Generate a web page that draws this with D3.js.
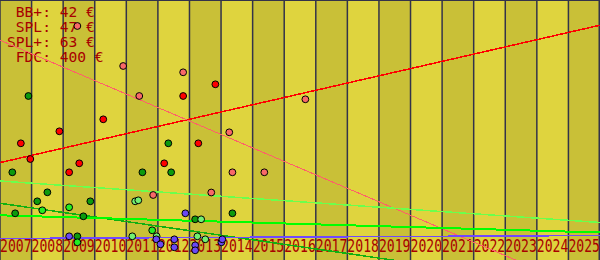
<!DOCTYPE html>
<html>
<head>
<meta charset="utf-8">
<script src="https://cdn.jsdelivr.net/npm/d3@7"></script>
<style>
  body { margin: 0; background: #fff; }
  svg { display: block; }
</style>
</head>
<body>
<svg id="chart"></svg>
<script>
// Years shown as bands along the x axis
const years = d3.range(2007, 2026);

// Legend lines (grade: price)
const legendLabels = ['BB+', 'SPL', 'SPL+', 'FDC'];
const legendPrices = [42, 47, 63, 400];

// Point series: [year, value]
const redPoints = [[2007.66, 58.35], [2007.96, 50.5], [2008.88, 64.35], [2009.19, 43.85], [2009.51, 48.35],
  [2010.27, 70.35], [2012.20, 48.35], [2012.80, 82], [2013.28, 58.35], [2013.82, 87.85]];
const salmonPoints = [[2009.45, 117], [2010.90, 97], [2011.41, 82], [2011.85, 32.5], [2012.80, 93.85],
  [2013.69, 33.75], [2014.26, 63.85], [2014.36, 43.85], [2015.37, 43.85], [2016.67, 80.35]];
const darkGreenPoints = [[2007.39, 43.85], [2007.48, 23.35], [2007.90, 82], [2008.18, 29.35], [2008.50, 33.85],
  [2009.45, 11.85], [2009.64, 21.85], [2009.86, 29.35], [2011.51, 43.85], [2012.33, 58.35],
  [2012.42, 43.85], [2013.18, 20.35], [2014.36, 23.35]];
const greenPoints = [[2008.34, 24.85], [2009.19, 26.35], [2009.45, 8.85], [2011.82, 14.85]];
const paleGreenPoints = [[2011.19, 11.85], [2011.28, 29.35], [2011.38, 29.85], [2011.96, 11.85],
  [2013.25, 11.85], [2013.37, 20.35], [2013.50, 10.35]];
const bluePoints = [[2009.19, 11.85], [2011.95, 10.35], [2012.08, 7.85], [2012.52, 10.35], [2012.52, 6.35],
  [2012.87, 23.35], [2013.18, 7.35], [2013.18, 4.85], [2014.01, 8.85], [2014.04, 10.35]];

// Trend lines: value at start (2007) and end (2026)
const redTrend = [48.7, 117.4];
const salmonTrend = [109.9, -18];
const paleGreenTrend = [39.5, 18.75];
const greenTrend = [22.35, 13.75];
const darkGreenTrend = [28.35, -15];
const blueTrend = [10.75, 12.25];

class PriceChart {

  constructor(_config) {
    this.config = {
      parentElement: _config.parentElement,
      containerWidth: _config.containerWidth || 600,
      containerHeight: _config.containerHeight || 260
    };
    this.initVis();
  }

  initVis() {
    let vis = this;

    vis.width = vis.config.containerWidth;
    vis.height = vis.config.containerHeight;

    vis.xScale = d3.scaleLinear()
      .domain([2007, 2026])
      .range([0, vis.width]);

    vis.yScale = d3.scaleLinear()
      .domain([0, 130])
      .range([vis.height, 0]);

    vis.svg = d3.select(vis.config.parentElement)
      .attr('width', vis.width)
      .attr('height', vis.height);

    vis.chart = vis.svg.append('g');

    vis.updateVis();
  }

  updateVis() {
    let vis = this;

    vis.series = [
      {points: redPoints, trend: redTrend, fill: '#ff0000', line: '#ff0000', lw: 1.5},
      {points: salmonPoints, trend: salmonTrend, fill: '#f86868', line: '#ff5f6a', lw: 1},
      {points: darkGreenPoints, trend: darkGreenTrend, fill: '#0d9a0d', line: '#10b010', lw: 1.5},
      {points: greenPoints, trend: greenTrend, fill: '#22ee22', line: '#00ff00', lw: 2},
      {points: paleGreenPoints, trend: paleGreenTrend, fill: '#72f072', line: '#6cff4c', lw: 1.5},
      {points: bluePoints, trend: blueTrend, fill: '#6a48f4', line: '#7048ff', lw: 1.5}
    ];

    vis.renderVis();
  }

  renderVis() {
    let vis = this;
    const band = vis.xScale(2008) - vis.xScale(2007);

    // alternating year bands
    vis.chart.selectAll('.band')
      .data(years)
      .join('rect')
      .attr('class', 'band')
      .attr('x', d => vis.xScale(d))
      .attr('y', 0)
      .attr('width', band + 0.5)
      .attr('height', vis.height)
      .attr('fill', (d, i) => i % 2 === 0 ? '#c9c037' : '#dfd43e');

    // year separators
    vis.chart.selectAll('.sep')
      .data(years.concat([2026]))
      .join('line')
      .attr('class', 'sep')
      .attr('x1', d => Math.min(vis.xScale(d), vis.width - 0.75))
      .attr('x2', d => Math.min(vis.xScale(d), vis.width - 0.75))
      .attr('y1', 0)
      .attr('y2', vis.height)
      .attr('stroke', '#33334a')
      .attr('stroke-width', 1.5);

    vis.chart.append('line')
      .attr('x1', 0).attr('x2', vis.width)
      .attr('y1', 0.5).attr('y2', 0.5)
      .attr('stroke', '#33334a');

    // legend text
    vis.chart.selectAll('.legend')
      .data(legendLabels)
      .join('text')
      .attr('class', 'legend')
      .attr('x', 7)
      .attr('y', (d, i) => 17 + i * 14.9)
      .attr('xml:space', 'preserve')
      .style('white-space', 'pre')
      .attr('font-family', '"DejaVu Sans Mono", monospace')
      .attr('font-size', '14.6px')
      .attr('fill', '#a80000')
      .text((d, i) => `${d.padStart(4, ' ')}: ${legendPrices[i]} €`);

    // year labels
    vis.chart.selectAll('.year')
      .data(years)
      .join('text')
      .attr('class', 'year')
      .attr('x', d => vis.xScale(d))
      .attr('y', 252)
      .attr('font-family', '"DejaVu Sans Mono", monospace')
      .attr('font-size', '17px')
      .attr('textLength', band)
      .attr('lengthAdjust', 'spacingAndGlyphs')
      .attr('fill', '#a80000')
      .text(d => d);

    // trend lines
    vis.chart.selectAll('.trend')
      .data(vis.series)
      .join('line')
      .attr('class', 'trend')
      .attr('x1', vis.xScale(2007))
      .attr('x2', vis.xScale(2026))
      .attr('y1', d => vis.yScale(d.trend[0]))
      .attr('y2', d => vis.yScale(d.trend[1]))
      .attr('stroke', d => d.line)
      .attr('stroke-width', d => d.lw)
      .attr('shape-rendering', 'crispEdges');

    // points
    vis.chart.selectAll('.series')
      .data(vis.series)
      .join('g')
      .attr('class', 'series')
      .each(function(s) {
        d3.select(this).selectAll('circle')
          .data(s.points)
          .join('circle')
          .attr('cx', d => vis.xScale(d[0]))
          .attr('cy', d => vis.yScale(d[1]))
          .attr('r', 3.4)
          .attr('fill', s.fill)
          .attr('stroke', '#000')
          .attr('stroke-width', 1);
      });
  }
}

new PriceChart({parentElement: '#chart'});
</script>
</body>
</html>
